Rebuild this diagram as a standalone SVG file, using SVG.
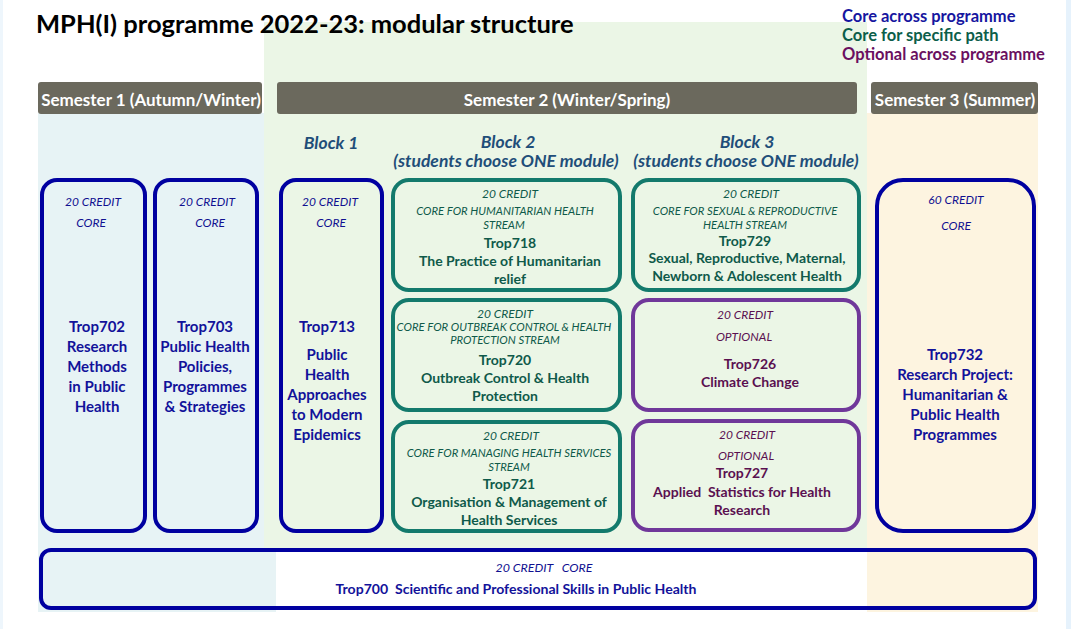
<svg xmlns="http://www.w3.org/2000/svg" width="1071" height="629" viewBox="0 0 1071 629">
<style>
text{font-family:Lato,"Open Sans","Liberation Sans",sans-serif;text-anchor:middle;dominant-baseline:central;white-space:pre}
.sem{fill:#6b695d}
.semt{fill:#fff;font-weight:bold;font-size:17px}
.blk{fill:#1f4e79;font-weight:bold;font-style:italic;font-size:17.5px}
.bn{fill:none;stroke:#0000a0;stroke-width:4}
.gn{fill:none;stroke:#137a6c;stroke-width:4}
.pn{fill:none;stroke:#70389a;stroke-width:4}
.bi{fill:#101090;font-style:italic;font-size:12px}
.bt{fill:#12129a;font-weight:bold;font-size:15px}
.gi{fill:#0f5a4a;font-style:italic;font-size:12px}
.gs{fill:#0f5a4a;font-style:italic;font-size:11.3px}
.gt{fill:#0f5a4a;font-weight:bold;font-size:14px}
.pi{fill:#5a1050;font-style:italic;font-size:12px}
.pt{fill:#5a1050;font-weight:bold;font-size:14px}
</style>
<rect width="1071" height="629" fill="#fff"/>
<rect x="0" y="0" width="3" height="629" fill="#eef6fc"/>
<rect x="1066" y="0" width="5" height="629" fill="#e6f2fc"/>
<rect x="38" y="113" width="238" height="499" fill="#e7f3f5"/>
<rect x="264" y="22" width="603" height="526" fill="#ebf6e6"/>
<rect x="867" y="113" width="171" height="499" fill="#fdf4e0"/>
<rect x="276" y="548" width="591" height="64" fill="#fff"/>

<text x="36" y="23" style="text-anchor:start;font-weight:bold;font-size:25.5px;fill:#000">MPH(I) programme 2022-23: modular structure</text>
<g id="legend" style="font-weight:bold;font-size:16.5px">
<text x="842" y="16" style="text-anchor:start;fill:#1616a0">Core across programme</text>
<text x="842" y="35" style="text-anchor:start;fill:#0c5e4a">Core for specific path</text>
<text x="842" y="54" style="text-anchor:start;fill:#6a0f60">Optional across programme</text>
</g>

<g id="sem1"><rect class="sem" x="38" y="82" width="224" height="32" rx="3"/><text class="semt" x="151" y="99">Semester 1 (Autumn/Winter)</text></g>
<g id="sem2"><rect class="sem" x="277" y="82" width="580" height="32" rx="3"/><text class="semt" x="567" y="99">Semester 2 (Winter/Spring)</text></g>
<g id="sem3"><rect class="sem" x="871" y="82" width="167" height="32" rx="3"/><text class="semt" x="955" y="99">Semester 3 (Summer)</text></g>

<g id="block1"><text class="blk" x="331" y="142">Block 1</text></g>
<g id="block2"><text class="blk" x="508" y="141">Block 2</text><text class="blk" x="506" y="160">(students choose ONE module)</text></g>
<g id="block3"><text class="blk" x="747" y="141">Block 3</text><text class="blk" x="746" y="160">(students choose ONE module)</text></g>

<g id="trop702"><rect class="bn" x="42" y="180" width="103" height="351" rx="15"/>
<text class="bi" x="93" y="201">20 CREDIT</text><text class="bi" x="91" y="222">CORE</text>
<text class="bt" x="97" y="326">Trop702</text><text class="bt" x="97" y="346">Research</text><text class="bt" x="97" y="366">Methods</text><text class="bt" x="97" y="386">in Public</text><text class="bt" x="97" y="406">Health</text></g>

<g id="trop703"><rect class="bn" x="155" y="180" width="102" height="351" rx="15"/>
<text class="bi" x="207" y="201">20 CREDIT</text><text class="bi" x="210" y="222">CORE</text>
<text class="bt" x="205" y="326">Trop703</text><text class="bt" x="205" y="346">Public Health</text><text class="bt" x="205" y="366">Policies,</text><text class="bt" x="205" y="386">Programmes</text><text class="bt" x="205" y="406">&amp; Strategies</text></g>

<g id="trop713"><rect class="bn" x="281" y="180" width="101" height="351" rx="15"/>
<text class="bi" x="330" y="201">20 CREDIT</text><text class="bi" x="331" y="222">CORE</text>
<text class="bt" x="327" y="326">Trop713</text><text class="bt" x="327" y="354">Public</text><text class="bt" x="327" y="374">Health</text><text class="bt" x="327" y="394">Approaches</text><text class="bt" x="327" y="414">to Modern</text><text class="bt" x="327" y="434">Epidemics</text></g>

<g id="trop718"><rect class="gn" x="393" y="180" width="227" height="110" rx="16"/>
<text class="gi" x="510" y="193">20 CREDIT</text><text class="gs" x="505" y="210">CORE FOR HUMANITARIAN HEALTH</text><text class="gs" x="504" y="224">STREAM</text>
<text class="gt" x="510" y="242">Trop718</text><text class="gt" x="510" y="260">The Practice of Humanitarian</text><text class="gt" x="510" y="278">relief</text></g>

<g id="trop720"><rect class="gn" x="393" y="300" width="227" height="110" rx="16"/>
<text class="gi" x="505" y="313">20 CREDIT</text><text class="gs" x="504" y="326">CORE FOR OUTBREAK CONTROL &amp; HEALTH</text><text class="gs" x="505" y="339">PROTECTION STREAM</text>
<text class="gt" x="505" y="359">Trop720</text><text class="gt" x="505" y="377">Outbreak Control &amp; Health</text><text class="gt" x="505" y="395">Protection</text></g>

<g id="trop721"><rect class="gn" x="393" y="422" width="227" height="109" rx="16"/>
<text class="gi" x="511" y="435">20 CREDIT</text><text class="gs" x="509" y="452">CORE FOR MANAGING HEALTH SERVICES</text><text class="gs" x="509" y="466">STREAM</text>
<text class="gt" x="509" y="483">Trop721</text><text class="gt" x="509" y="501">Organisation &amp; Management of</text><text class="gt" x="509" y="519">Health Services</text></g>

<g id="trop729"><rect class="gn" x="633" y="180" width="226" height="110" rx="16"/>
<text class="gi" x="751" y="193">20 CREDIT</text><text class="gs" x="745" y="210">CORE FOR SEXUAL &amp; REPRODUCTIVE</text><text class="gs" x="745" y="224">HEALTH STREAM</text>
<text class="gt" x="745" y="240">Trop729</text><text class="gt" x="747" y="257">Sexual, Reproductive, Maternal,</text><text class="gt" x="747" y="275">Newborn &amp; Adolescent Health</text></g>

<g id="trop726"><rect class="pn" x="633" y="300" width="226" height="110" rx="16"/>
<text class="pi" x="745" y="314">20 CREDIT</text><text class="pi" x="744" y="336">OPTIONAL</text>
<text class="pt" x="750" y="363">Trop726</text><text class="pt" x="750" y="381">Climate Change</text></g>

<g id="trop727"><rect class="pn" x="633" y="421" width="226" height="109" rx="16"/>
<text class="pi" x="747" y="434">20 CREDIT</text><text class="pi" x="746" y="455">OPTIONAL</text>
<text class="pt" x="742" y="472">Trop727</text><text class="pt" x="742" y="491">Applied  Statistics for Health</text><text class="pt" x="742" y="509">Research</text></g>

<g id="trop732"><rect class="bn" x="877" y="180" width="157" height="351" rx="26"/>
<text class="bi" x="956" y="199">60 CREDIT</text><text class="bi" x="956" y="225">CORE</text>
<text class="bt" x="955" y="354">Trop732</text><text class="bt" x="955" y="374">Research Project:</text><text class="bt" x="955" y="394">Humanitarian &amp;</text><text class="bt" x="955" y="414">Public Health</text><text class="bt" x="955" y="434">Programmes</text></g>

<g id="trop700"><rect class="bn" x="41" y="550" width="994" height="58" rx="10"/>
<text class="bi" x="544" y="567" textLength="97" lengthAdjust="spacingAndGlyphs">20 CREDIT   CORE</text>
<text class="bt" x="516" y="589" style="font-size:13px" textLength="361" lengthAdjust="spacingAndGlyphs">Trop700  Scientific and Professional Skills in Public Health</text></g>

<g id="connectors"></g>
</svg>
